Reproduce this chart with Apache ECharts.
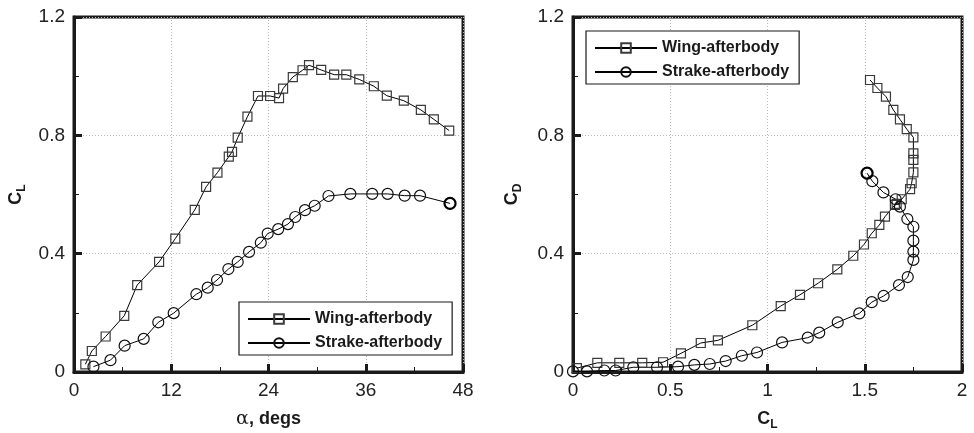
<!DOCTYPE html>
<html>
<head>
<meta charset="utf-8">
<title>CL / CD</title>
<script src="https://cdn.jsdelivr.net/npm/echarts@6/dist/echarts.min.js"></script>
<style>
  html, body { margin: 0; padding: 0; background: #fff; }
  #chart { width: 974px; height: 433px; }
</style>
</head>
<body>
<div id="chart"></div>
<script>
// left plot: CL vs alpha
var wingAlpha = [1.4, 2.2, 3.9, 6.2, 7.8, 10.5, 12.5, 14.9, 16.3, 17.7, 19.1, 19.5, 20.2, 21.4, 22.7, 24.2, 25.3, 25.8, 27.0, 28.2, 29.0, 30.5, 32.1, 33.6, 35.2, 37.0, 38.6, 40.7, 42.8, 44.4, 46.3];
var wingCL = [0.026, 0.071, 0.12, 0.19, 0.294, 0.372, 0.451, 0.548, 0.626, 0.674, 0.728, 0.744, 0.792, 0.863, 0.933, 0.933, 0.926, 0.958, 0.997, 1.02, 1.037, 1.021, 1.005, 1.005, 0.989, 0.966, 0.934, 0.917, 0.886, 0.854, 0.816];
var strakeAlpha = [2.4, 4.5, 6.25, 8.6, 10.4, 12.3, 15.1, 16.5, 17.65, 19.05, 20.2, 21.6, 23.05, 23.9, 25.2, 26.4, 27.3, 28.5, 29.7, 31.4, 34.1, 36.8, 38.7, 40.8, 42.7, 46.4];
var strakeCL = [0.018, 0.04, 0.089, 0.112, 0.168, 0.199, 0.263, 0.285, 0.311, 0.348, 0.372, 0.406, 0.437, 0.468, 0.483, 0.5, 0.524, 0.547, 0.562, 0.595, 0.602, 0.602, 0.602, 0.596, 0.596, 0.570];

// right plot: CD vs CL
var wingPolarCL = [0.02, 0.125, 0.238, 0.356, 0.463, 0.555, 0.657, 0.745, 0.922, 1.068, 1.167, 1.26, 1.359, 1.441, 1.496, 1.536, 1.575, 1.604, 1.655, 1.664, 1.69, 1.733, 1.741, 1.75, 1.75, 1.75, 1.75, 1.716, 1.681, 1.647, 1.609, 1.565, 1.527];
var wingPolarCD = [0.013, 0.031, 0.031, 0.031, 0.033, 0.063, 0.098, 0.107, 0.158, 0.223, 0.261, 0.30, 0.347, 0.393, 0.431, 0.469, 0.497, 0.525, 0.565, 0.568, 0.584, 0.618, 0.638, 0.675, 0.717, 0.739, 0.793, 0.821, 0.854, 0.886, 0.931, 0.96, 0.987];
var strakePolarCL = [0, 0.072, 0.161, 0.219, 0.31, 0.432, 0.54, 0.624, 0.703, 0.785, 0.868, 0.946, 1.075, 1.207, 1.266, 1.361, 1.472, 1.536, 1.597, 1.676, 1.721, 1.75, 1.75, 1.75, 1.75, 1.719, 1.681, 1.659, 1.596, 1.539, 1.512];
var strakePolarCD = [0.002, 0.002, 0.005, 0.005, 0.016, 0.016, 0.018, 0.024, 0.027, 0.037, 0.055, 0.066, 0.1, 0.116, 0.133, 0.168, 0.198, 0.236, 0.257, 0.294, 0.321, 0.379, 0.407, 0.444, 0.491, 0.517, 0.559, 0.584, 0.607, 0.645, 0.672];

var alphaTicks = [0, 12, 24, 36, 48];
var clTicks = [0, 0.5, 1, 1.5, 2];
var coefTicks = [0, 0.4, 0.8, 1.2];

var FONT = 'Liberation Sans, Arial, sans-serif';
var INK = '#1a1a1a';

function pairs(xs, ys, thickLast) {
  return xs.map(function (x, i) {
    var p = { value: [x, ys[i]] };
    if (thickLast && i === xs.length - 1) {
      p.itemStyle = { borderWidth: 2.2, borderColor: '#000' }; // last point bold
    }
    return p;
  });
}

// axis helpers
function valueAxis(gridIndex, ticks, opts) {
  var a = {
    type: 'value',
    gridIndex: gridIndex,
    min: ticks[0],
    max: ticks[ticks.length - 1],
    interval: ticks[1] - ticks[0],
    axisLine: { show: true, onZero: false, lineStyle: { color: INK, width: 3 } },
    axisTick: { show: true, inside: true, length: 8, lineStyle: { color: INK, width: 3 } },
    minorTick: { show: true, splitNumber: 2, length: 5, lineStyle: { color: INK, width: 1 } },
    splitLine: { show: true, lineStyle: { color: '#b8b8b8', width: 1, type: [1, 2] } },
    axisLabel: { color: '#222', fontSize: 19, fontFamily: FONT, margin: 9 },
    nameLocation: 'middle'
  };
  for (var k in opts) a[k] = opts[k];
  return a;
}

var titleRich = {
  c: { fontSize: 18, fontWeight: 'bold', fontFamily: FONT, color: INK, lineHeight: 24, verticalAlign: 'middle' },
  s: { fontSize: 12, fontWeight: 'bold', fontFamily: FONT, color: INK, lineHeight: 24, verticalAlign: 'bottom' },
  g: { fontSize: 19, fontFamily: 'DejaVu Serif, serif', color: INK, lineHeight: 24 },
  b: { fontSize: 18, fontWeight: 'bold', fontFamily: FONT, color: INK, lineHeight: 24 }
};

function lineSeries(name, data, symbol, size, xi, yi) {
  return {
    name: name,
    type: 'line',
    xAxisIndex: xi,
    yAxisIndex: yi,
    data: data,
    symbol: symbol,
    symbolSize: size,
    showAllSymbol: true,
    clip: false,
    lineStyle: { color: '#000', width: 1 },
    itemStyle: { color: 'rgba(255,255,255,0)', borderColor: symbol === 'rect' ? '#3a3a3a' : '#111', borderWidth: 1.2 },
    emphasis: { disabled: true }
  };
}

function legendAt(left, top) {
  return {
    orient: 'vertical',
    left: left,
    top: top,
    padding: [9, 10, 4, 8],
    itemGap: 8,
    itemWidth: 62,
    itemHeight: 12,
    backgroundColor: '#fff',
    borderColor: INK,
    borderWidth: 1.2,
    borderRadius: 0,
    selectedMode: false,
    textStyle: { fontSize: 16, fontWeight: 'bold', fontFamily: FONT, color: INK },
    data: ['Wing-afterbody', 'Strake-afterbody']
  };
}

var myChart = echarts.init(document.getElementById('chart'));
var option = {
  animation: false,
  backgroundColor: '#fff',
  grid: [
    // outerBoundsMode none: keep the frame exactly where it is put
    { left: 74, top: 17, width: 389, height: 355, show: true, borderColor: INK, borderWidth: 3, outerBoundsMode: 'none', containLabel: false },
    { left: 573, top: 17, width: 389, height: 355, show: true, borderColor: INK, borderWidth: 3, outerBoundsMode: 'none', containLabel: false }
  ],
  legend: [legendAt(239, 302), legendAt(586, 31)],
  xAxis: [
    valueAxis(0, alphaTicks, {
      name: '{g|α}{b|, degs}', nameGap: 35, nameTextStyle: { rich: titleRich }
    }),
    valueAxis(1, clTicks, {
      name: '{c|C}{s|L}', nameGap: 35, nameTextStyle: { rich: titleRich }
    })
  ],
  yAxis: [
    valueAxis(0, coefTicks, {
      name: '{c|C}{s|L}', nameGap: 46, nameTextStyle: { rich: titleRich }
    }),
    valueAxis(1, coefTicks, {
      name: '{c|C}{s|D}', nameGap: 49, nameTextStyle: { rich: titleRich }
    })
  ],
  series: [
    lineSeries('Wing-afterbody', pairs(wingAlpha, wingCL), 'rect', 9, 0, 0),
    lineSeries('Strake-afterbody', pairs(strakeAlpha, strakeCL, true), 'circle', 11, 0, 0),
    lineSeries('Wing-afterbody', pairs(wingPolarCL, wingPolarCD), 'rect', 9, 1, 1),
    lineSeries('Strake-afterbody', pairs(strakePolarCL, strakePolarCD, true), 'circle', 11, 1, 1)
  ]
};
myChart.setOption(option);
</script>
</body>
</html>
